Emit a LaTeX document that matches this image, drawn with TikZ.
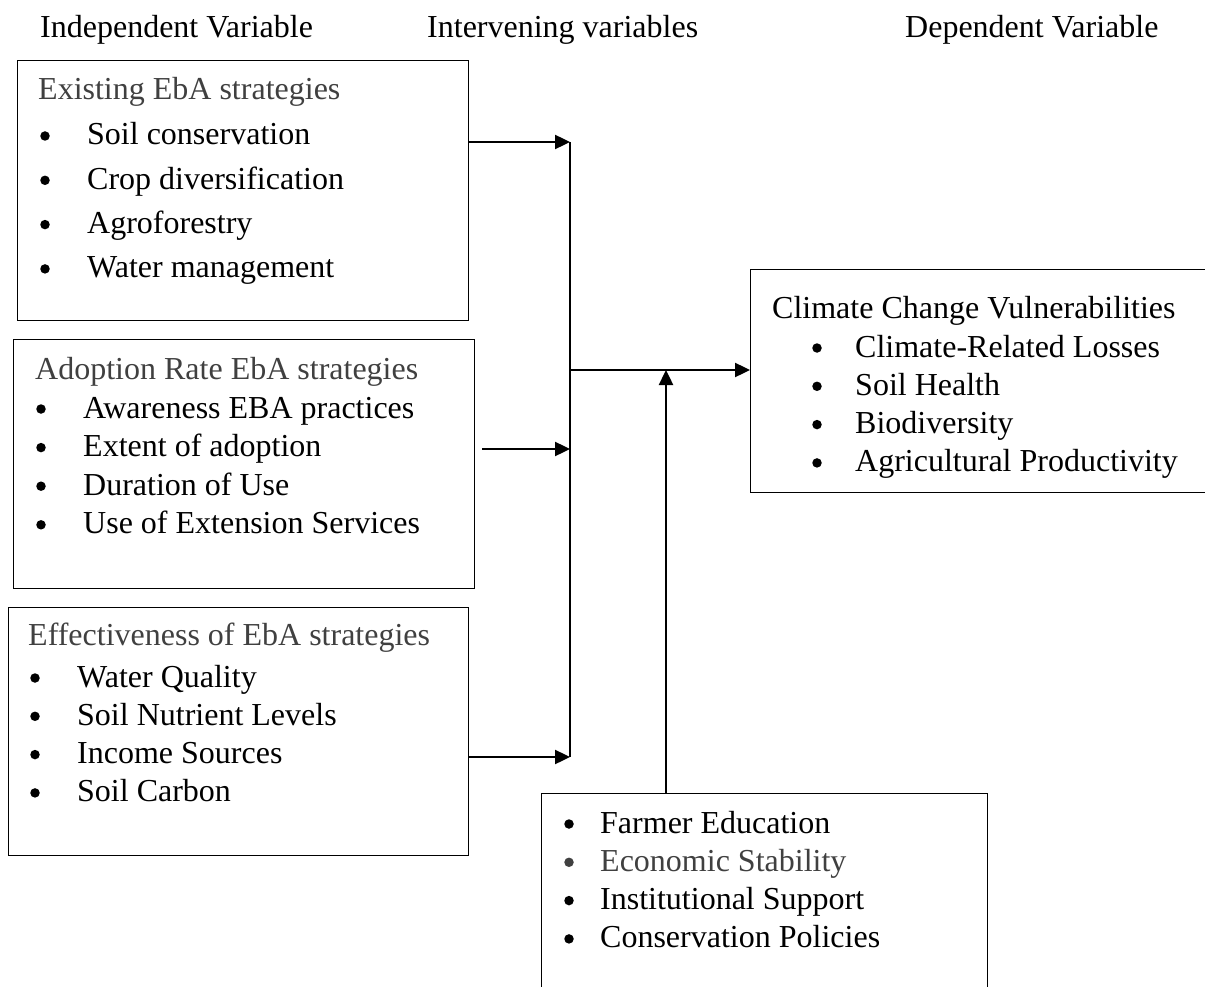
\documentclass[tikz,border=0pt]{standalone}
\usepackage{fontspec}
\setmainfont{Liberation Serif}
\usepackage{xcolor}
\usepackage{tikz}
\usetikzlibrary{arrows.meta}
\usetikzlibrary{positioning}
\definecolor{titlegrey}{gray}{0.25}
\newcommand{\diagfont}{\fontsize{32}{38}\selectfont}
\tikzset{
    boxnode/.style = {rectangle, draw=black, line width=1.4pt, inner sep=0pt, anchor=north west},
    headnode/.style = {anchor=base west, inner sep=0pt, font=\diagfont},
    titlenode/.style = {anchor=base west, inner sep=0pt, font=\diagfont, text=titlegrey},
    itemnode/.style = {anchor=base west, inner sep=0pt, font=\diagfont},
    dotnode/.style = {circle, fill=black, inner sep=0pt, minimum size=9.5pt},
    link/.style = {line width=2.4pt, -{Triangle[length=15pt,width=14pt]}},
    spine/.style = {line width=2.4pt},
}

\begin{document}
\begin{tikzpicture}[
    x=1pt,
    y=-1pt
  ]
  \useasboundingbox (0,0) rectangle (1205,987);
  \clip (0,0) rectangle (1205,987);

  % column headings
  \node[headnode] (indep) at (40,38) {Independent Variable};
  \node[headnode] (interv) at (427,38) {Intervening variables};
  \node[headnode] (dep) at (905,38) {Dependent Variable};

  % boxes
  \node[boxnode, minimum width=451pt, minimum height=260pt] (exist) at (17,60) {};
  \node[boxnode, minimum width=461pt, minimum height=249pt] (adopt) at (13,339) {};
  \node[boxnode, minimum width=460pt, minimum height=248pt] (effect) at (8,607) {};
  \node[boxnode, minimum width=520pt, minimum height=223pt] (vuln) at (750,269) {};
  \node[boxnode, minimum width=446pt, minimum height=260pt] (factors) at (541,793) {};

  % box texts
  \node[titlenode] (existT) at (38,100) {Existing EbA strategies};
  \foreach \t [count=\i] in {Soil conservation, Crop diversification, Agroforestry, Water management} {
    \node[dotnode] (existB\i) at (45,{145+44.3*(\i-1)-9}) {};
    \node[itemnode] (existI\i) at (87,{145+44.3*(\i-1)}) {\t};
  }

  \node[titlenode] (adoptT) at (35,379) {Adoption Rate EbA strategies};
  \foreach \t [count=\i] in {Awareness EBA practices, Extent of adoption, Duration of Use, Use of Extension Services} {
    \node[dotnode] (adoptB\i) at (41,{418+38.6*(\i-1)-9}) {};
    \node[itemnode] (adoptI\i) at (83,{418+38.6*(\i-1)}) {\t};
  }

  \node[titlenode] (effectT) at (28,645) {Effectiveness of EbA strategies};
  \foreach \t [count=\i] in {Water Quality, Soil Nutrient Levels, Income Sources, Soil Carbon} {
    \node[dotnode] (effectB\i) at (35,{687+38.3*(\i-1)-9}) {};
    \node[itemnode] (effectI\i) at (77,{687+38.3*(\i-1)}) {\t};
  }

  \node[headnode] (vulnT) at (772,318) {Climate Change Vulnerabilities};
  \foreach \t [count=\i] in {Climate-Related Losses, Soil Health, Biodiversity, Agricultural Productivity} {
    \node[dotnode] (vulnB\i) at (817,{357+38.3*(\i-1)-9}) {};
    \node[itemnode] (vulnI\i) at (855,{357+38.3*(\i-1)}) {\t};
  }

  \foreach \t/\c [count=\i] in {Farmer Education/black, Economic Stability/titlegrey, Institutional Support/black, Conservation Policies/black} {
    \node[dotnode, fill=\c] (factorsB\i) at (569,{833+38.3*(\i-1)-9}) {};
    \node[itemnode, text=\c] (factorsI\i) at (600,{833+38.3*(\i-1)}) {\t};
  }

  % connectors
  \coordinate (j1) at (570,142);
  \coordinate (j2) at (570,449);
  \coordinate (j3) at (570,757);
  \coordinate (j0) at (570,370);
  \coordinate (s2) at (482,449);
  \coordinate (u0) at (666,370);

  \draw[spine] (j1) -- (j3);
  \draw[link] (exist.east |- j1) -- (j1);
  \draw[link] (s2) -- (j2);
  \draw[link] (effect.east |- j3) -- (j3);
  \draw[link] (j0) -- (vuln.west |- j0);
  \draw[link] (u0 |- factors.north) -- (u0);
\end{tikzpicture}
\end{document}
